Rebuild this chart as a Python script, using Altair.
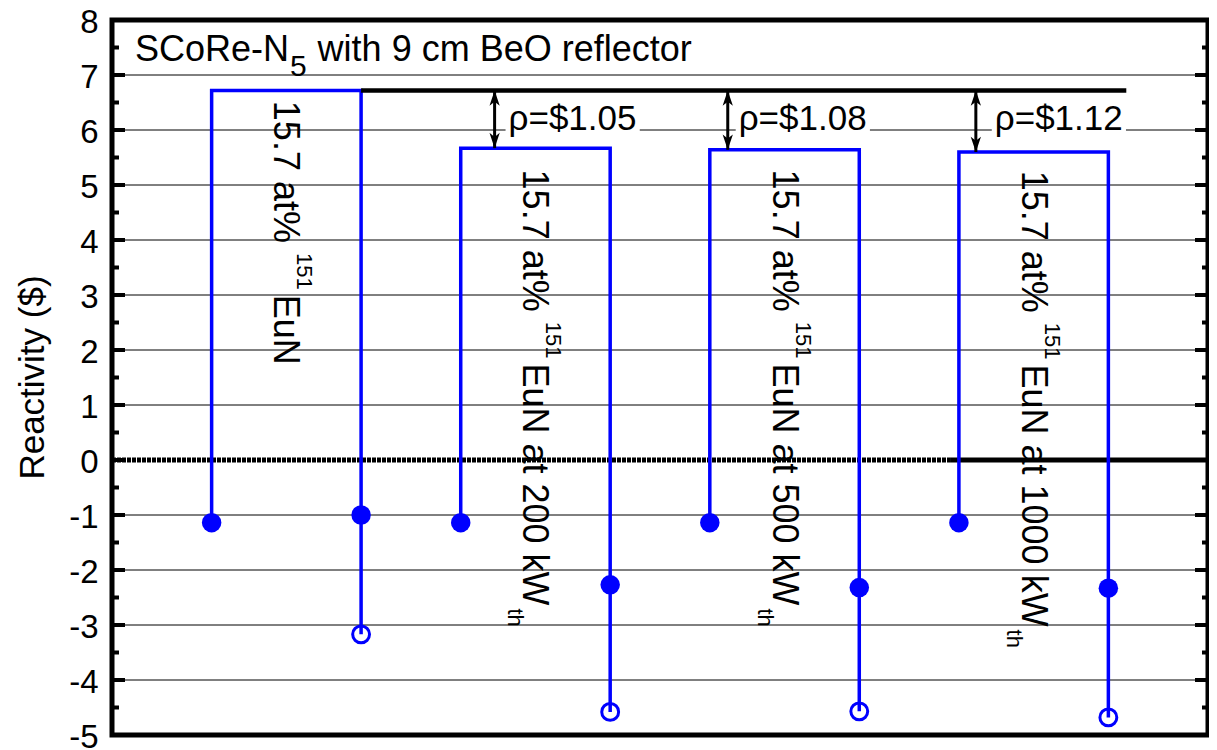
import altair as alt
import pandas as pd

FONT = "Liberation Sans"
BLUE = "#0000ff"

# ---------------- data ----------------
group_ids = [1, 2, 3, 4]
x_left = [1.0, 3.5, 6.0, 8.5]
x_right = [2.5, 5.0, 7.5, 10.0]
y_left_filled = [-1.14, -1.14, -1.14, -1.14]
y_right_filled = [-1.00, -2.27, -2.32, -2.33]
y_right_open = [-3.17, -4.58, -4.57, -4.68]
y_top = [6.72, 5.67, 5.64, 5.60]

ref_line_x = [2.5, 10.18]
ref_line_y = 6.72

rho_labels = ["ρ=$1.05", "ρ=$1.08", "ρ=$1.12"]
rho_arrow_x = [3.84, 6.18, 8.67]
rho_arrow_top = [6.72, 6.72, 6.72]
rho_arrow_bottom = [5.67, 5.64, 5.60]
rho_text_x = [3.98, 6.29, 8.86]
rho_text_y = 6.0

label_x = [1.75, 4.25, 6.75, 9.25]
label_y = [6.53, 5.28, 5.28, 5.26]
label_main1 = "15.7 at% "
label_sup = "151"
label_main2 = ["EuN", "EuN at 200 kW", "EuN at 500 kW", "EuN at 1000 kW"]
label_sub = ["", "th", "th", "th"]

title_parts = ["SCoRe-N", "5", " with 9 cm BeO reflector"]
title_x = 0.23
title_y = 7.25

y_ticks_major = list(range(-5, 9))
y_ticks_minor = [v + 0.5 for v in range(-5, 8)]
grid_values = [v for v in range(-4, 8) if v != 0]
zero_dotted_x = [0.0, 8.42]
zero_solid_x = [8.42, 11.0]

# ---------------- text metrics (Arial-like) ----------------
AW = {' ': 278, '%': 889, '$': 556, '(': 333, ')': 333, '-': 333, '.': 278,
      '=': 584, 'B': 667, 'C': 722, 'E': 667, 'N': 722, 'O': 778, 'R': 722,
      'S': 667, 'W': 944, 'a': 556, 'c': 500, 'e': 556, 'f': 278, 'h': 556,
      'i': 222, 'k': 500, 'l': 222, 'm': 833, 'o': 556, 'r': 333, 't': 278,
      'u': 556, 'v': 500, 'w': 722, 'y': 500, 'ρ': 577}


def tw(s, fs):
    return sum(AW.get(c, 556) for c in s) / 1000.0 * fs


def seg(text, fs, offset):
    """Strip leading spaces (SVG collapses them) and move the offset instead."""
    stripped = text.lstrip(" ")
    lead = len(text) - len(stripped)
    return stripped, offset + tw(" " * lead, fs)


W_PX, H_PX = 1096, 715
xscale = alt.Scale(domain=[0, 11], nice=False, zero=False)
yscale = alt.Scale(domain=[-5, 8], nice=False, zero=False)
yaxis = alt.Axis(values=y_ticks_major, labelExpr="'' + datum.value",
                 labelFont=FONT, labelFontSize=33, labelColor="black",
                 labelBaseline="alphabetic", labelOffset=12,
                 labelPadding=14, ticks=False, domain=False, grid=False,
                 labelFlush=False, labelOverlap=False,
                 title="Reactivity ($)", titleFont=FONT, titleFontSize=35,
                 titleFontWeight="normal", titleColor="black", titleAngle=270,
                 titleX=-69, titleY=357, titleAlign="center",
                 titleBaseline="alphabetic")


def X(f="x"):
    return alt.X(f + ":Q", scale=xscale, axis=None)


def Y(f="y"):
    return alt.Y(f + ":Q", scale=yscale, axis=yaxis)


# ---------------- tables ----------------
grid_df = pd.DataFrame({"y": grid_values})
zero_df = pd.DataFrame({"x": [zero_dotted_x[0]], "x2": [zero_dotted_x[1]], "y": [0]})
zero_solid_df = pd.DataFrame({"x": [zero_solid_x[0]], "x2": [zero_solid_x[1]], "y": [0]})

path_rows = []
for i, g in enumerate(group_ids):
    path_rows += [
        {"g": g, "o": 0, "x": x_left[i], "y": y_left_filled[i]},
        {"g": g, "o": 1, "x": x_left[i], "y": y_top[i]},
        {"g": g, "o": 2, "x": x_right[i], "y": y_top[i]},
        {"g": g, "o": 3, "x": x_right[i], "y": y_right_open[i]},
    ]
path_df = pd.DataFrame(path_rows)

filled_df = pd.DataFrame({"x": x_left + x_right, "y": y_left_filled + y_right_filled})
open_df = pd.DataFrame({"x": x_right, "y": y_right_open})
ref_df = pd.DataFrame({"x": [ref_line_x[0]], "x2": [ref_line_x[1]], "y": [ref_line_y]})
arrow_df = pd.DataFrame({"x": rho_arrow_x, "y": rho_arrow_top, "y2": rho_arrow_bottom})
head_up_df = pd.DataFrame({"x": rho_arrow_x, "y": rho_arrow_top})
head_dn_df = pd.DataFrame({"x": rho_arrow_x, "y": rho_arrow_bottom})
rho_df = pd.DataFrame({"x": rho_text_x, "y": [rho_text_y] * 3, "t": rho_labels})

# horizontal text segments: (x, y, text, fontsize, dx, dy)
htext_rows = []
off = 0.0
title_fs = [36, 30, 36]
title_shift = [0, 15, 0]
for part, fs, sh in zip(title_parts, title_fs, title_shift):
    txt, d = seg(part, fs, off)
    htext_rows.append({"x": title_x, "y": title_y, "t": txt, "fs": fs, "dx": round(d, 1), "dy": sh})
    off += tw(part, fs) + 1
for xv, lab in zip(rho_text_x, rho_labels):
    htext_rows.append({"x": xv, "y": rho_text_y, "t": lab, "fs": 35, "dx": 0.0, "dy": 0})
htext_df = pd.DataFrame(htext_rows)

# rotated label segments (dx along the text, dy across it)
rtext_rows = []
for i in range(4):
    a = 0.0
    rtext_rows.append({"x": label_x[i], "y": label_y[i], "t": label_main1.strip(), "fs": 36, "dx": a, "dy": 12})
    a += tw(label_main1, 36)
    rtext_rows.append({"x": label_x[i], "y": label_y[i], "t": label_sup, "fs": 22, "dx": round(a, 1), "dy": -11})
    a += tw(label_sup, 22) + 5
    rtext_rows.append({"x": label_x[i], "y": label_y[i], "t": label_main2[i], "fs": 36, "dx": round(a, 1), "dy": 12})
    a += tw(label_main2[i], 36) + 3
    if label_sub[i]:
        rtext_rows.append({"x": label_x[i], "y": label_y[i], "t": label_sub[i], "fs": 22, "dx": round(a, 1), "dy": 27})
rtext_df = pd.DataFrame(rtext_rows)

major_df = pd.DataFrame({"y": y_ticks_major})
minor_df = pd.DataFrame({"y": y_ticks_minor})

# ---------------- layers ----------------
grid = alt.Chart(grid_df).mark_rule(color="black", strokeWidth=1).encode(y=Y())
zero_dot = alt.Chart(zero_df).mark_rule(color="black", strokeWidth=5, strokeDash=[4, 1]).encode(
    x=X(), x2="x2:Q", y=Y())
zero_solid = alt.Chart(zero_solid_df).mark_rule(color="black", strokeWidth=5).encode(
    x=X(), x2="x2:Q", y=Y())

rho_w = tw(rho_labels[0], 35)
rho_bg = alt.Chart(rho_df).mark_rect(color="white", xOffset=-3, x2Offset=rho_w + 3,
                                     yOffset=-3, y2Offset=3).encode(
    x=X(), x2=alt.X2("x"), y=Y(), y2=alt.Y2("y"))

brackets = alt.Chart(path_df).mark_line(color=BLUE, strokeWidth=3.5, strokeJoin="miter",
                                        strokeCap="butt").encode(
    x=X(), y=Y(), detail="g:N", order="o:Q")

ref = alt.Chart(ref_df).mark_rule(color="black", strokeWidth=4.5).encode(x=X(), x2="x2:Q", y=Y())

shafts = alt.Chart(arrow_df).mark_rule(color="black", strokeWidth=3).encode(x=X(), y=Y(), y2="y2:Q")
head_up = alt.Chart(head_up_df).mark_point(
    shape="M0,0L-0.5,1.5L0,1.1L0.5,1.5Z", size=420, filled=True, color="black",
    opacity=1, strokeWidth=0).encode(x=X(), y=Y())
head_dn = alt.Chart(head_dn_df).mark_point(
    shape="M0,0L-0.5,-1.5L0,-1.1L0.5,-1.5Z", size=420, filled=True, color="black",
    opacity=1, strokeWidth=0).encode(x=X(), y=Y())

filled_pts = alt.Chart(filled_df).mark_circle(size=380, color=BLUE, opacity=1).encode(x=X(), y=Y())
open_pts = alt.Chart(open_df).mark_point(shape="circle", size=285, filled=False, color=BLUE,
                                         strokeWidth=3, opacity=1).encode(x=X(), y=Y())

text_layers = []
for (fs, dx, dy), sub in htext_df.groupby(["fs", "dx", "dy"]):
    text_layers.append(
        alt.Chart(sub.reset_index(drop=True)).mark_text(
            align="left", baseline="alphabetic", font=FONT, color="black",
            fontSize=float(fs), dx=float(dx), dy=float(dy)).encode(x=X(), y=Y(), text="t:N"))
for (fs, dx, dy), sub in rtext_df.groupby(["fs", "dx", "dy"]):
    text_layers.append(
        alt.Chart(sub.reset_index(drop=True)).mark_text(
            angle=90, align="left", baseline="alphabetic", font=FONT, color="black",
            fontSize=float(fs), dx=float(dx), dy=float(dy)).encode(x=X(), y=Y(), text="t:N"))

tick_l_major = alt.Chart(major_df).mark_rule(color="black", strokeWidth=4).encode(
    y=Y(), x=alt.value(0), x2=alt.value(13))
tick_l_minor = alt.Chart(minor_df).mark_rule(color="black", strokeWidth=4).encode(
    y=Y(), x=alt.value(0), x2=alt.value(7))
tick_r_major = alt.Chart(major_df).mark_rule(color="black", strokeWidth=4).encode(
    y=Y(), x=alt.value(W_PX - 13), x2=alt.value(W_PX))
tick_r_minor = alt.Chart(minor_df).mark_rule(color="black", strokeWidth=4).encode(
    y=Y(), x=alt.value(W_PX - 6), x2=alt.value(W_PX))

chart = alt.layer(
    grid, zero_dot, zero_solid, rho_bg, brackets, ref, shafts, head_up, head_dn,
    filled_pts, open_pts, *text_layers,
    tick_l_major, tick_l_minor, tick_r_major, tick_r_minor,
).properties(
    width=W_PX, height=H_PX,
    autosize=alt.AutoSizeParams(type="none"),
    padding={"left": 104, "top": 12, "right": 1, "bottom": 14},
    background="white",
).configure_view(stroke="black", strokeWidth=5)

chart.save("out.html", embed_options={"renderer": "svg", "actions": False})
